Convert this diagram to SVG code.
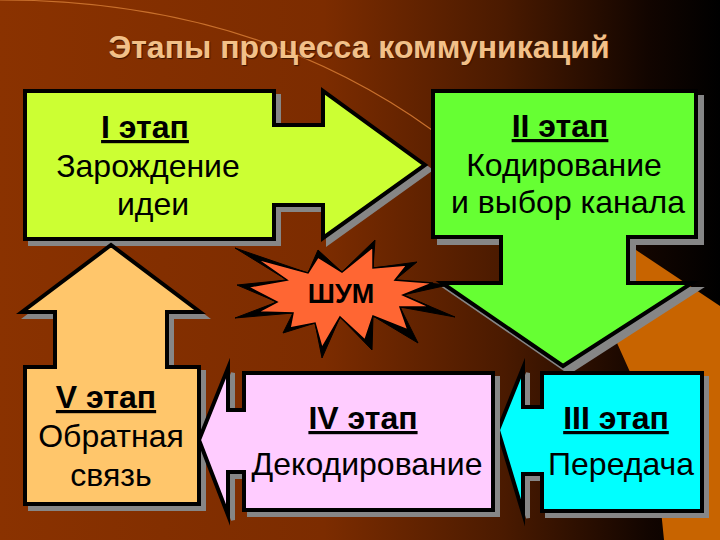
<svg xmlns="http://www.w3.org/2000/svg" width="720" height="540" viewBox="0 0 720 540">
<defs>
<linearGradient id="bg" x1="0" y1="0" x2="1" y2="0">
<stop offset="0" stop-color="#8a3200"/><stop offset="0.45" stop-color="#7c2c00"/><stop offset="0.7" stop-color="#4a1a00"/><stop offset="0.9" stop-color="#120500"/><stop offset="1" stop-color="#000"/>
</linearGradient>
<path id="p1" d="M25 91H274V125H323V91L425 165L323 238V205H274V239H25Z"/>
<path id="p2" d="M433 91H696V237H628V283H692L563 366L442 283H501V237H433Z"/>
<path id="p3" d="M542 373H702V511H542V474H523V513L498 430L523 368V407H542Z"/>
<path id="p4" d="M244 373H493V510H244V472H228V515L199 440L228 368V410H244Z"/>
<path id="p5" d="M25 367H55V312H22L111 245L200 312H167V367H199V504H25Z"/>
</defs>
<style>
.s{fill:#868686;stroke:#868686;stroke-width:4}
.o{stroke:#000;stroke-width:4;stroke-linejoin:miter;stroke-miterlimit:10}
text{font-family:"Liberation Sans",Arial,sans-serif;fill:#000;text-anchor:middle;font-size:32px}
.h{font-weight:bold;text-decoration:underline}
.t{font-weight:bold;fill:#f2c088;text-shadow:1px 1px 1px #3a1400}
</style>
<rect width="720" height="540" fill="url(#bg)"/>
<path d="M636 250L720 306V540H664L661 510L630 372L617 343Z" fill="#c86400"/>
<path d="M0 0C150 0 300 35 432 130" fill="none" stroke="#c8702c" stroke-width="1.2"/>
<text class="t" x="359" y="58">Этапы процесса коммуникаций</text>
<g id="stage1">
<use href="#p1" class="s" transform="translate(5,5)"/>
<use href="#p1" class="o" fill="#ccff33"/>
<text class="h" x="145" y="138">I этап</text><text x="148" y="177">Зарождение</text><text x="153" y="215">идеи</text>
</g>
<g id="stage2">
<use href="#p2" class="s" transform="translate(6,6)"/>
<use href="#p2" class="o" fill="#66ff33"/>
<text class="h" x="560" y="137">II этап</text><text x="564" y="176">Кодирование</text><text x="568" y="213">и выбор канала</text>
</g>
<g id="noise">
<path fill="#000" stroke="#000" stroke-width="1" d="M235 248L308 273L318 250L342 272L375 240L373 268L417 262L395 280L448 285L403 295L455 317L400 307L418 343L373 316L372 350L340 317L322 358L315 323L283 333L293 313L235 318L277 302L237 285L287 280Z"/>
<path fill="#ff6633" stroke="#000" stroke-width="1.5" d="M257 259L308 273L318 257L342 272L373 247L373 268L407 265L395 280L433 283L403 295L430 307L400 307L408 330L373 316L365 340L340 317L322 348L315 323L290 328L293 313L258 312L277 302L248 287L287 280Z"/>
<text x="341" y="303" style="font-weight:bold;font-size:27px">ШУМ</text>
</g>
<g id="stage5">
<use href="#p5" class="s" transform="translate(5,5)"/>
<use href="#p5" class="o" fill="#ffc66b"/>
<text class="h" x="106" y="408">V этап</text><text x="111" y="447">Обратная</text><text x="111" y="486">связь</text>
</g>
<g id="stage3">
<use href="#p3" class="s" transform="translate(5,5)"/>
<use href="#p3" class="o" fill="#00ffff"/>
<text class="h" x="616" y="429">III этап</text><text x="621" y="475">Передача</text>
</g>
<g id="stage4">
<use href="#p4" class="s" transform="translate(5,5)"/>
<use href="#p4" class="o" fill="#ffccff"/>
<text class="h" x="363" y="429">IV этап</text><text x="367" y="475">Декодирование</text>
</g>
</svg>
